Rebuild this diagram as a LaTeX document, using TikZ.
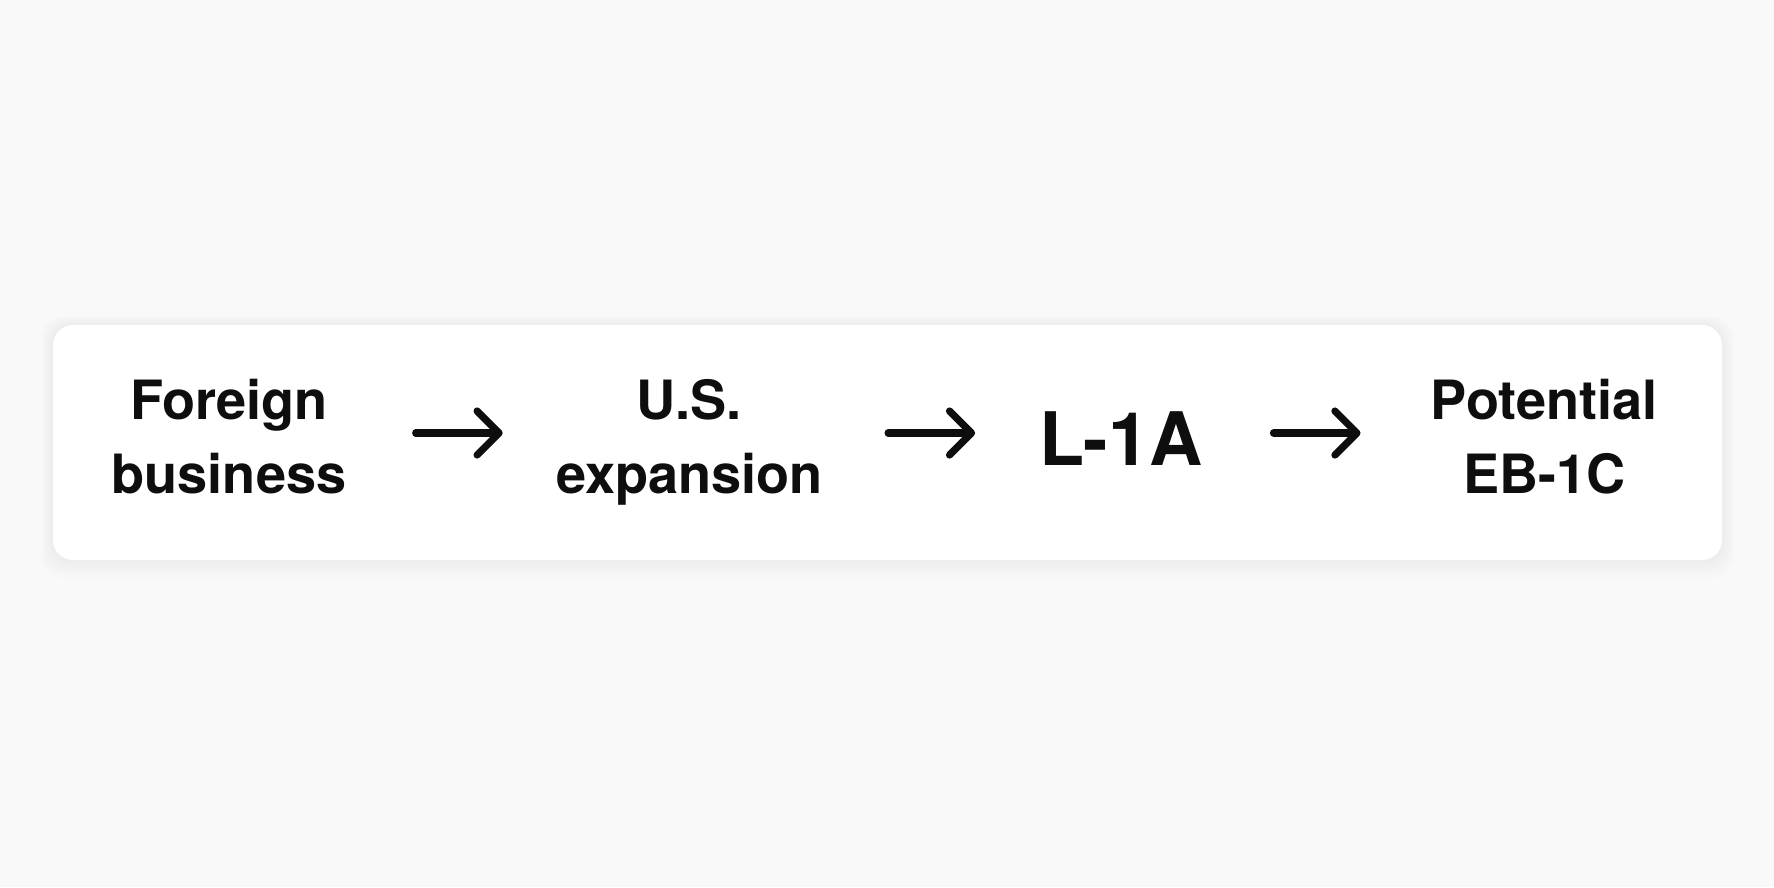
\documentclass[tikz,border=0pt]{standalone}
\usepackage{fontspec}
\setmainfont{TeX Gyre Heros}
\usetikzlibrary{positioning,arrows.meta}
\definecolor{pagebg}{HTML}{F9F9F9}
\definecolor{ink}{HTML}{0E0E0E}
\tikzset{
  stage/.style={inner sep=0pt,align=center,text=ink,text height=4.6mm,text depth=7.4mm,
    font=\bfseries\fontsize{15.4}{21.2}\selectfont},
  bigstage/.style={stage,text height=6.4mm,text depth=0pt,font=\bfseries\fontsize{21}{25}\selectfont},
  flowarrow/.style={draw=ink,line width=0.72mm,line cap=round,
    -{Straight Barb[length=2.2mm,width=4.4mm,line cap=round,line join=round]}}
}

\begin{document}
\begin{tikzpicture}[x=0.1mm,y=-0.1mm]
  \fill[pagebg] (0,0) rectangle (1774,887);
  \foreach \g in {1,...,6}
    \fill[black,opacity=0.006,rounded corners=2.2mm]
      (53-\g*2,325-\g*1.5) rectangle (1722+\g*2,560+\g*3);
  \node[fill=white,rounded corners=2mm,minimum width=166.9mm,minimum height=23.5mm] (strip) at (887.5,442.5) {};

  \node[stage,text width=25mm] (foreign) at (229,433) {Foreign\\business};
  \node[stage,text width=29mm,right=18.9mm of foreign] (usexp) {U.S.\\expansion};
  \node[bigstage,text width=17mm,right=20mm of usexp] (lonea) {L-1A};
  \node[stage,text width=26mm,right=20.7mm of lonea] (ebonec) {Potential\\EB-1C};

  \draw[flowarrow,shorten <=6.1mm,shorten >=4.1mm] (foreign) -- (usexp);
  \draw[flowarrow,shorten <=5.3mm,shorten >=6mm] (usexp) -- (lonea);
  \draw[flowarrow,shorten <=6.7mm,shorten >=5.3mm] (lonea) -- (ebonec);
\end{tikzpicture}
\end{document}
